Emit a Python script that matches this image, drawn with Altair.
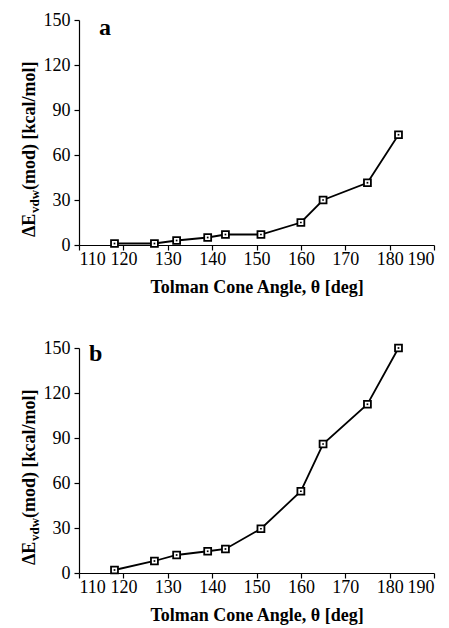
import altair as alt
import pandas as pd

angles = [118, 127, 132, 139, 143, 151, 160, 165, 175, 182]
energy_a = [1, 1, 3, 5, 7, 7, 15, 30, 41.5, 73.5]
energy_b = [2, 8, 12, 14.5, 16, 29.5, 54.5, 86, 112.5, 150]
panel_labels = ["a", "b"]
x_ticks = [110, 120, 130, 140, 150, 160, 170, 180, 190]
y_ticks = [0, 30, 60, 90, 120, 150]
x_title = "Tolman Cone Angle, θ [deg]"
y_title_parts = ["ΔE", "vdw", "(mod) [kcal/mol]"]

FONT = "Liberation Serif"


def panel(values, label, label_x, label_y):
    df = pd.DataFrame({"angle": angles, "energy": values})
    x = alt.X(
        "angle:Q",
        scale=alt.Scale(domain=[110, 190], nice=False, zero=False),
        axis=alt.Axis(values=x_ticks, title=x_title, format="d",
                      labelPadding=0, titlePadding=10, labelOverlap=False),
    )
    y = alt.Y(
        "energy:Q",
        scale=alt.Scale(domain=[0, 150], nice=False),
        axis=alt.Axis(values=y_ticks, title=None, format="d", labelPadding=4),
    )
    base = alt.Chart(df)
    line = base.mark_line(color="black", strokeWidth=1.8).encode(x=x, y=y)
    pts = base.mark_point(
        shape="square", filled=True, fill="white", stroke="black",
        strokeWidth=1.8, size=48, opacity=1,
    ).encode(x=x, y=y)
    dots = base.mark_point(
        shape="square", filled=True, color="black", size=3, opacity=1
    ).encode(x=x, y=y)

    lab = alt.Chart(pd.DataFrame({"t": [label]})).mark_text(
        font=FONT, fontSize=24, fontWeight="bold", align="left",
        baseline="alphabetic", color="black",
    ).encode(x=alt.value(label_x), y=alt.value(label_y), text="t:N")

    t_main1 = alt.Chart(pd.DataFrame({"t": [y_title_parts[0]]})).mark_text(
        font=FONT, fontSize=18, fontWeight="bold", align="left",
        baseline="alphabetic", angle=270, color="black",
    ).encode(x=alt.value(-44), y=alt.value(217), text="t:N")
    t_sub = alt.Chart(pd.DataFrame({"t": [y_title_parts[1]]})).mark_text(
        font=FONT, fontSize=13, fontWeight="bold", align="left",
        baseline="alphabetic", angle=270, color="black",
    ).encode(x=alt.value(-40), y=alt.value(193), text="t:N")
    t_main2 = alt.Chart(pd.DataFrame({"t": [y_title_parts[2]]})).mark_text(
        font=FONT, fontSize=18, fontWeight="bold", align="left",
        baseline="alphabetic", angle=270, color="black",
    ).encode(x=alt.value(-44), y=alt.value(170), text="t:N")

    return alt.layer(line, pts, dots, lab, t_main1, t_sub, t_main2).properties(
        width=355, height=225
    )


chart = alt.vconcat(
    panel(energy_a, panel_labels[0], 20, 15),
    panel(energy_b, panel_labels[1], 10, 13),
    spacing=43,
).properties(
    padding={"left": 12, "top": 3, "right": 5, "bottom": 5}
).configure_view(stroke=None).configure_axis(
    grid=False,
    domainColor="black",
    domainWidth=1.2,
    tickColor="black",
    tickWidth=1.2,
    tickSize=5,
    labelFont=FONT,
    labelFontSize=18,
    labelColor="black",
    titleFont=FONT,
    titleFontSize=18,
    titleFontWeight="bold",
    titleColor="black",
)

chart.save("out.html", embed_options={"renderer": "svg", "actions": False})
